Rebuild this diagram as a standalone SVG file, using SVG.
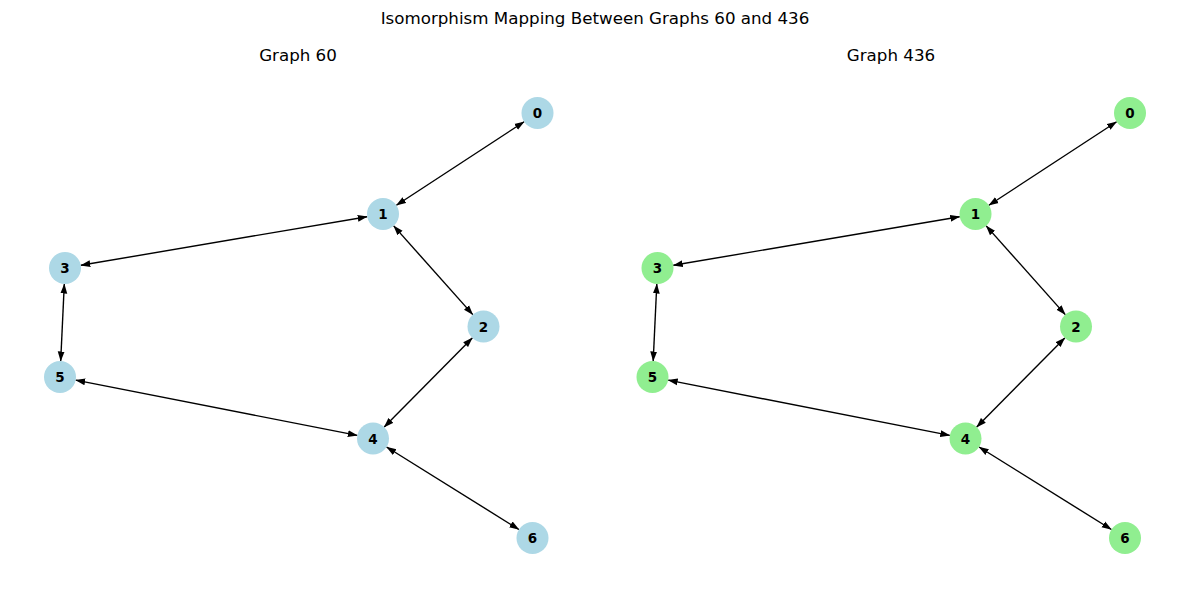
<svg xmlns="http://www.w3.org/2000/svg" width="1189" height="593" viewBox="0 0 1189 593">
<style>
.title{font-family:"DejaVu Sans","Liberation Sans",sans-serif;font-size:16.7px;fill:#000;text-anchor:middle}
.lbl{font-family:"DejaVu Sans","Liberation Sans",sans-serif;font-size:13.5px;font-weight:bold;fill:#000;text-anchor:middle;dominant-baseline:central}
.edge line{stroke:#000;stroke-width:1.4;fill:none;marker-start:url(#ah);marker-end:url(#ah)}
.blue circle{fill:#add8e6}
.green circle{fill:#90ee90}
</style>
<defs>
<marker id="ah" viewBox="0 0 10 8" refX="9.5" refY="4" markerWidth="10" markerHeight="8" markerUnits="userSpaceOnUse" orient="auto-start-reverse">
<path d="M0,0.6 L10,4 L0,7.4 Z" fill="#000"/>
</marker>
</defs>
<rect width="1189" height="593" fill="#fff"/>
<text class="title" x="595" y="24">Isomorphism Mapping Between Graphs 60 and 436</text>
<text class="title" x="298" y="61">Graph 60</text>
<text class="title" x="891" y="61">Graph 436</text>

<g id="graph60">
<g id="edges60" class="edge">
<line x1="524.1" y1="121.75" x2="396.4" y2="205.25"/>
<line x1="367.2" y1="216.7" x2="80.8" y2="265.3"/>
<line x1="393.7" y1="225.9" x2="472.8" y2="314.6"/>
<line x1="472.3" y1="337.9" x2="384.2" y2="427.1"/>
<line x1="64.3" y1="284.0" x2="60.7" y2="361.0"/>
<line x1="75.7" y1="380.1" x2="357.3" y2="435.4"/>
<line x1="386.6" y1="447.0" x2="518.9" y2="529.5"/>
</g>
<g class="blue">
<g id="g60-n0"><circle cx="537.5" cy="113" r="16"/><text class="lbl" x="537.5" y="113">0</text></g>
<g id="g60-n1"><circle cx="383" cy="214" r="16"/><text class="lbl" x="383" y="214">1</text></g>
<g id="g60-n2"><circle cx="483.5" cy="326.5" r="16"/><text class="lbl" x="483.5" y="326.5">2</text></g>
<g id="g60-n3"><circle cx="65" cy="268" r="16"/><text class="lbl" x="65" y="268">3</text></g>
<g id="g60-n4"><circle cx="373" cy="438.5" r="16"/><text class="lbl" x="373" y="438.5">4</text></g>
<g id="g60-n5"><circle cx="60" cy="377" r="16"/><text class="lbl" x="60" y="377">5</text></g>
<g id="g60-n6"><circle cx="532.5" cy="538" r="16"/><text class="lbl" x="532.5" y="538">6</text></g>
</g>
</g>

<g id="graph436" transform="translate(592.5,0)">
<g id="edges436" class="edge">
<line x1="524.1" y1="121.75" x2="396.4" y2="205.25"/>
<line x1="367.2" y1="216.7" x2="80.8" y2="265.3"/>
<line x1="393.7" y1="225.9" x2="472.8" y2="314.6"/>
<line x1="472.3" y1="337.9" x2="384.2" y2="427.1"/>
<line x1="64.3" y1="284.0" x2="60.7" y2="361.0"/>
<line x1="75.7" y1="380.1" x2="357.3" y2="435.4"/>
<line x1="386.6" y1="447.0" x2="518.9" y2="529.5"/>
</g>
<g class="green">
<g id="g436-n0"><circle cx="537.5" cy="113" r="16"/><text class="lbl" x="537.5" y="113">0</text></g>
<g id="g436-n1"><circle cx="383" cy="214" r="16"/><text class="lbl" x="383" y="214">1</text></g>
<g id="g436-n2"><circle cx="483.5" cy="326.5" r="16"/><text class="lbl" x="483.5" y="326.5">2</text></g>
<g id="g436-n3"><circle cx="65" cy="268" r="16"/><text class="lbl" x="65" y="268">3</text></g>
<g id="g436-n4"><circle cx="373" cy="438.5" r="16"/><text class="lbl" x="373" y="438.5">4</text></g>
<g id="g436-n5"><circle cx="60" cy="377" r="16"/><text class="lbl" x="60" y="377">5</text></g>
<g id="g436-n6"><circle cx="532.5" cy="538" r="16"/><text class="lbl" x="532.5" y="538">6</text></g>
</g>
</g>
</svg>
